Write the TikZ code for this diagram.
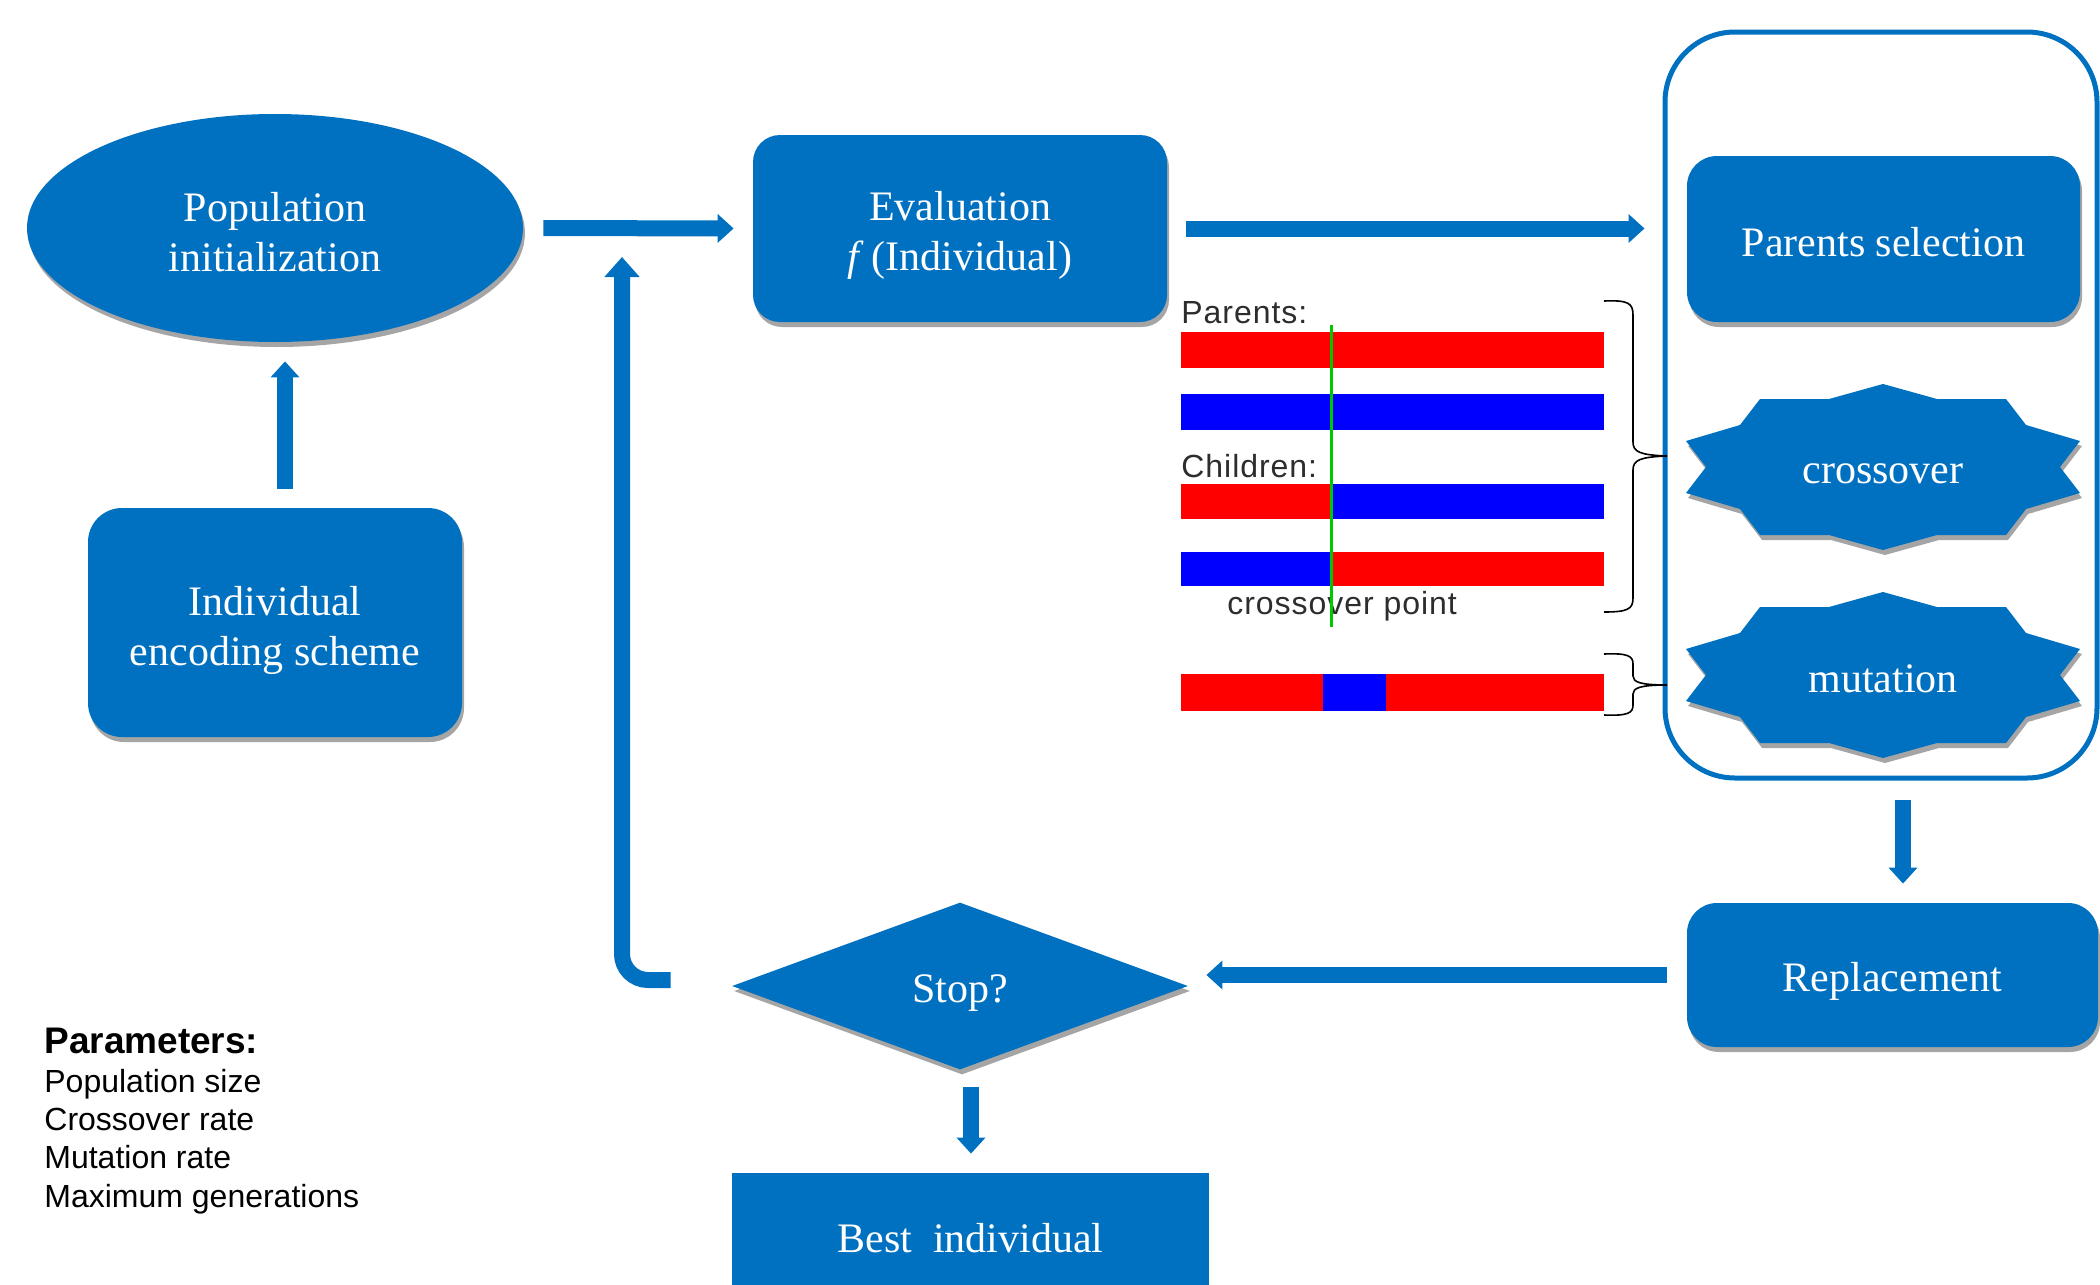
\documentclass[tikz,border=0pt]{standalone}
\usepackage{fontspec}
\setmainfont{Liberation Serif}
\setsansfont{Liberation Sans}
\usetikzlibrary{shapes.geometric,arrows.meta,shadows}
\definecolor{blu}{RGB}{0,112,192}
\definecolor{shd}{RGB}{165,165,165}
\definecolor{gn}{RGB}{0,200,0}
\definecolor{lbl}{RGB}{45,45,45}
\definecolor{chr}{RGB}{255,0,0}
\definecolor{chb}{RGB}{0,0,255}
\newcommand\gastarpath{(0,-83) -- (54,-68) -- (123,-68) -- (143,-42) -- (197,-26) -- (177,0) -- (197,26) -- (143,42) -- (123,68) -- (54,68) -- (0,83) -- (-54,68) -- (-123,68) -- (-143,42) -- (-197,26) -- (-177,0) -- (-197,-26) -- (-143,-42) -- (-123,-68) -- (-54,-68) -- cycle}
\begin{document}
\begin{tikzpicture}[x=0.5pt,y=-0.5pt,
 txt/.style={text=white, font=\fontsize{21}{25}\selectfont, align=center, inner sep=0pt},
 shad/.style={drop shadow={shadow xshift=1pt, shadow yshift=-2.5pt, fill=shd, opacity=1}},
 rbox/.style={rectangle, fill=blu, shad, inner sep=0pt},
 arr/.style={draw=blu, line width=8pt, -{Triangle[width=14pt,length=8pt]}},
 lab/.style={text=lbl, font=\sffamily\fontsize{16}{18}\selectfont\addfontfeatures{LetterSpace=3}, inner sep=0pt, anchor=base west},
 par/.style={font=\sffamily\fontsize{16}{19}\selectfont, inner sep=0pt, anchor=base west},
 brace/.style={draw=black, line width=0.8pt}
]
\useasboundingbox (0,0) rectangle (2100,1285);
\clip (0,0) rectangle (2100,1285);

% main shapes
\node[ellipse, fill=blu, shad, minimum width=248pt, minimum height=114pt, inner sep=0pt] (pop) at (275,228) {};
\node[txt, yshift=-2pt] (popt) at (pop.center) {Population\\initialization};
\node[rbox, rounded corners=17pt, minimum width=187pt, minimum height=114.5pt] (enc) at (275,622.5) {};
\node[txt, yshift=-4pt] (enct) at (enc.center) {Individual\\encoding scheme};
\node[rbox, rounded corners=13.5pt, minimum width=207pt, minimum height=93.5pt] (eval) at (960,228.5) {};
\node[txt, yshift=-3.3pt] (evalt) at (eval.center) {Evaluation\\\textit{f}\,(Individual)};
\node[draw=blu, line width=2.5pt, rounded corners=35pt, minimum width=216pt, minimum height=373pt, inner sep=0pt] (outer) at (1881,405) {};
\node[rbox, rounded corners=15pt, minimum width=196.5pt, minimum height=83pt] (psel) at (1883.5,239) {};
\node[txt, yshift=-1.5pt] (pselt) at (psel.center) {Parents selection};
\node[rbox, rounded corners=15pt, minimum width=205.5pt, minimum height=72pt] (rep) at (1892.5,975) {};
\node[txt, yshift=-3.3pt] (rept) at (rep.center) {Replacement};
\node[diamond, fill=blu, shad, minimum width=228pt, minimum height=83.5pt, aspect=2.73, inner sep=0pt] (stop) at (960,986) {};
\node[txt, yshift=-3.3pt] (stopt) at (stop.center) {Stop?};
\node[rectangle, fill=blu, minimum width=238.5pt, minimum height=65pt, inner sep=0pt] (best) at (970.5,1238) {};
\node[txt] (bestt) at (best.center) {Best\ \ individual};

% stars
\begin{scope}[shift={(1883,467)}]
\fill[shd, shift={(2,5)}] \gastarpath;
\fill[blu] \gastarpath;
\end{scope}
\node[txt, yshift=-3.3pt] (xo) at (1883,467) {crossover};
\begin{scope}[shift={(1883,675)}]
\fill[shd, shift={(2,5)}] \gastarpath;
\fill[blu] \gastarpath;
\end{scope}
\node[txt, yshift=-2pt] (mu) at (1883,675) {mutation};

% chromosomes
\fill[chr] (1181,332) rectangle (1604,368);
\fill[chb] (1181,394) rectangle (1604,430);
\fill[chr] (1181,484) rectangle (1331,519);
\fill[chb] (1331,484) rectangle (1604,519);
\fill[chb] (1181,552) rectangle (1331,586);
\fill[chr] (1331,552) rectangle (1604,586);
\fill[chr] (1181,674) rectangle (1604,711);
\fill[chb] (1323,674) rectangle (1386,711);
\node[lab] (lp) at (1181,323) {Parents:};
\node[lab] (lc) at (1181,477) {Children:};
\node[lab] (lx) at (1227,614) {crossover point};
\draw[gn, line width=1.5pt] (1331,325) -- (1331,627);

% braces
\draw[brace] (1604,301) .. controls (1628,300) and (1633,303) .. (1633,315) -- (1633,442) .. controls (1633,452) and (1640,455) .. (1667,456) .. controls (1640,457) and (1633,460) .. (1633,470) -- (1633,598) .. controls (1633,609) and (1628,612) .. (1604,612);
\draw[brace] (1604,654) .. controls (1628,653) and (1633,656) .. (1633,664) -- (1633,676) .. controls (1633,682) and (1640,685) .. (1667,685) .. controls (1640,685) and (1633,688) .. (1633,694) -- (1633,705) .. controls (1633,713) and (1628,716) .. (1604,715);

% arrows
\draw[arr, shorten <=9.5pt, shorten >=9.5pt] ([xshift=5pt]enc.north) -- ([xshift=5pt]pop.south);
\draw[arr, shorten <=10pt, shorten >=9.5pt] (pop.east) -- (eval.west);
\draw[arr, shorten <=9.5pt, shorten >=9pt] (eval.east) -- (eval.east -| outer.west);
\coordinate (dnx) at (1903,0);
\draw[arr, shorten <=9.5pt, shorten >=9.5pt] (dnx |- outer.south) -- (dnx |- rep.north);
\draw[arr, shorten <=10pt, shorten >=9pt] (rep.west) -- (rep.west -| stop.east);
\coordinate (bx) at (971,0);
\draw[arr, shorten <=8.5pt, shorten >=9.5pt] (bx |- stop.south) -- (bx |- best.north);
\coordinate (looptip) at (622,257);
\draw[arr, rounded corners=13pt, -{Triangle[width=17pt,length=10pt]}, shorten <=30.5pt] ([yshift=3pt]stop.west) -| (looptip);

% parameters
\node[par, font=\sffamily\bfseries\fontsize{18.5}{21}\selectfont] (ph) at (44,1053) {Parameters:};
\node[par] (p1) at (44,1092) {Population size};
\node[par] (p2) at (44,1130) {Crossover rate};
\node[par] (p3) at (44,1168) {Mutation rate};
\node[par] (p4) at (44,1207) {Maximum generations};
\end{tikzpicture}
\end{document}
